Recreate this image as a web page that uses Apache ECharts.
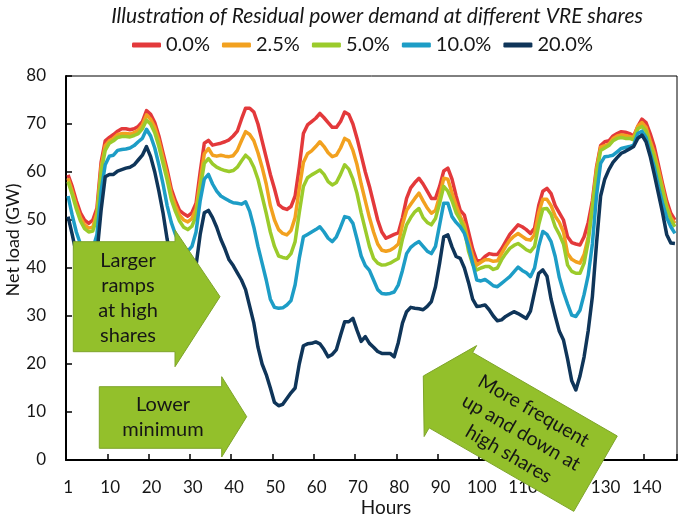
<!DOCTYPE html>
<html>
<head>
<meta charset="utf-8">
<script src="https://cdn.jsdelivr.net/npm/echarts@6/dist/echarts.min.js"></script>
<style>
  html, body { margin: 0; padding: 0; background: #fff; }
  #chart { width: 684px; height: 527px; }
</style>
</head>
<body>
<div id="chart"></div>
<script>
// ---------------- DATA ----------------
const titleText = 'Illustration of Residual power demand at different VRE shares';
const seriesNames = ['0.0%', '2.5%', '5.0%', '10.0%', '20.0%'];
const seriesColors = ['#E3393B', '#F2A11F', '#9BCB2B', '#1D9DC6', '#0F3559'];

// Hours 1..148 (category axis)
const hours = [];
for (let h = 1; h <= 148; h++) hours.push(String(h));

const share0 = [
  59.4, 57, 54, 51.5, 50, 49.3, 50, 52.5, 62, 66.5,
  67.2, 67.8, 68.5, 69, 69, 68.8, 69, 69.5, 70.5, 72.8,
  72, 70.3, 67.5, 64, 60.5, 56.5, 54, 52, 51.3, 50.8,
  51.5, 53.5, 60, 66, 66.6, 65.6, 65.8, 66, 66.3, 66.7,
  67.5, 68.5, 71, 73.3, 73.3, 72.5, 70, 66.5, 63, 59.5,
  56.5, 53.2, 52.5, 52.2, 52.8, 55, 61, 68, 69.8, 70.5,
  71.2, 72.2, 71.3, 70.3, 69.3, 69.3, 70.5, 72.5, 72, 70,
  67, 63.5, 60, 57, 53.5, 50, 47.5, 46.2, 46.6, 47,
  47.3, 50.5, 54.5, 56.7, 57.8, 58.7, 57.5, 56, 54.5, 54.5,
  57, 60.2, 60.8, 58.5, 55, 52, 51, 47.5, 44, 41.5,
  41.5, 42.4, 43, 42.8, 42.8, 44, 45.5, 47, 48, 49,
  48.6, 48, 47.2, 48.3, 53, 56, 56.6, 55.5, 53, 51.5,
  50, 46.5, 45.3, 45, 44.8, 46.5, 49.5, 54, 61, 65.5,
  66.3, 66.5, 67.5, 68, 68.4, 68.3, 68, 67.5, 69.5, 71,
  70.3, 68, 65.3, 61.5, 57.6, 54, 51.4, 50
];
const share25 = [
  58.7, 56, 53, 50.5, 49, 48.3, 48.5, 51.5, 61, 65.5,
  66.5, 67, 67.8, 68, 68, 67.9, 68.2, 68.7, 69.8, 71.9,
  71, 69.3, 66.5, 63, 59.5, 55.5, 53, 51, 50, 49.6,
  50.3, 52.3, 58, 63.8, 64.9, 63.5, 63.3, 63.5, 63.3, 63.2,
  63.4, 64.5, 66.5, 68.4, 67.8, 66.5, 64, 61, 57.5, 53,
  50, 48, 47.2, 46.9, 47.8, 50.5, 56.5, 62, 63.8, 64.4,
  65.3, 66.3, 65.3, 64, 63.2, 63.5, 65, 67, 66.5, 64.5,
  61.5, 57.5, 54, 50.5, 47.5, 45, 43.7, 43.5, 43.7, 44.2,
  45, 49, 52, 53.3, 54.5, 55.6, 54, 52.5, 51.4, 52,
  55, 58.7, 58.5, 55.6, 53, 50.7, 49, 45.5, 42.5, 40.6,
  41.2, 41.7, 41.7, 41.4, 41.5, 43, 44.5, 45.8, 46.6, 47.2,
  46.6, 46, 45.8, 47, 51.5, 54.3, 54.3, 53, 50.8, 49.5,
  47.5, 43, 41.8, 41.3, 41, 42.8, 46.5, 53, 60.5, 65.2,
  65.5, 65.8, 67, 67.5, 67.7, 67.6, 67.4, 67.2, 69.5, 70.3,
  69.3, 66.5, 64, 60.5, 56.8, 53, 50.5, 49.3
];
const share5 = [
  58, 55.3, 52.3, 49.8, 48.2, 47.5, 47.7, 50.5, 60, 64.5,
  66, 66.5, 67.2, 67.4, 67.4, 67.3, 67.6, 68, 69, 70.8,
  70, 68.2, 65.3, 61.8, 58.3, 54.3, 51.8, 49.8, 48.5, 48,
  48.7, 50.8, 56.5, 61.8, 62.8, 61.7, 61, 60.6, 60.3, 60.1,
  60.3, 61, 62.3, 63.5, 62.7, 61, 58.5, 55, 51.4, 47.5,
  44.5, 42.5, 42.2, 42, 43, 45.5, 51.5, 57, 58.8, 59.4,
  59.9, 60.4, 59.5, 58, 57.3, 57.8, 59.5, 61.5, 60.6, 58.5,
  55.5, 51.5, 48, 44.5, 42, 41, 40.6, 40.7, 41, 41.5,
  42, 46, 49, 50.5, 51.7, 52.4, 50.5, 49.5, 49, 50.3,
  53.5, 57, 56, 54, 51.5, 50, 48, 43.5, 40.8, 39.6,
  40, 40.3, 40.3, 39.7, 40, 41.7, 43, 44.1, 44.7, 45.1,
  44.5, 43.8, 43.4, 44.5, 49, 52.3, 52.4, 51.2, 48.6, 47,
  45, 40.6, 39.3, 38.9, 38.9, 41, 45.5, 52.5, 59.5, 64.5,
  65, 65.5, 66.5, 67, 67.2, 67, 67, 66.7, 69, 69.5,
  68.5, 65.5, 63, 59.5, 56, 52.5, 50, 48.6
];
const share10 = [
  55, 51, 47.5, 45, 44, 43.5, 44, 47, 56, 61.5,
  63.3, 63.5, 64.5, 64.7, 64.8, 65, 65.5, 66.3, 67, 68.9,
  67.5, 65, 61.5, 57.5, 53, 49.5, 47, 45, 44, 43.5,
  44.5, 47.5, 54, 58.5, 59.5, 57.5, 56, 55, 54.5, 54,
  53.6, 53.5, 53.3, 53.8, 51.8, 48.5, 44.5, 41, 37.5, 33.5,
  31.8, 31.6, 31.7, 32.3, 33.2, 36.5, 42, 46.5, 47, 47.5,
  48, 48.6, 47.5, 46.2, 45.5, 46.5, 48.5, 50.7, 50.5, 49.3,
  46, 42.5, 40.5, 39.5, 37.5, 35.5, 34.7, 34.6, 34.7, 35,
  36.5, 39.5, 43, 44.3, 45, 45.5, 44.5, 43.5, 43, 44.5,
  49, 53.5, 53.5, 50.7, 49.5, 48.6, 47.2, 44.5, 41, 37.5,
  37.3, 37.6, 37, 36.3, 36.1, 36.8, 37.5, 38.2, 39.2, 40.2,
  39.5, 39, 38.2, 40, 44.5, 47.6, 47, 45.5, 42.4, 38,
  35, 32.5, 30.2, 29.9, 31.2, 34.5, 38.5, 45, 55, 61.8,
  63.2, 63.3, 63.5, 64.2, 64.9, 65.1, 65.3, 65.6, 68, 68.5,
  67.2, 64, 61, 57, 53.5, 50.5, 48.6, 47.2
];
const share20 = [
  50.7, 47, 43, 40.5, 39.5, 39, 39.5, 43, 52, 59,
  59.5, 59.5, 60.2, 60.5, 60.8, 61, 61.5, 62.5, 63.5, 65.3,
  63.2, 60, 56, 51.5, 46, 41.5, 38, 35.5, 34.5, 34.5,
  36, 40.5, 47, 51.5, 52, 50.5, 48.5, 46, 44, 41.7,
  40.5, 39, 37.5, 35.5, 32, 28.5, 23.5, 20, 17.8, 15,
  12, 11.3, 11.6, 12.8, 14, 15, 20, 23.8, 24.2, 24.3,
  24.6, 24.2, 23, 21.5, 22, 23, 26, 28.8, 28.8, 29.5,
  27, 24.7, 25.7, 24.3, 23.5, 22.6, 22.2, 22.2, 22.2, 21.5,
  24.5, 28.5, 30.9, 31.8, 31.6, 31.5, 31.3, 32, 33, 36.1,
  41, 46.5, 46.9, 44.4, 42.4, 42, 40, 37, 33.5, 32,
  32.1, 32.3, 31.3, 30, 29, 29.2, 29.9, 30.4, 30.9, 30.5,
  30, 29.5, 31, 35, 38.9, 39.6, 38.3, 33.5, 30, 26.8,
  25, 21, 16.5, 14.6, 17.5, 21.5, 27, 34, 45, 55,
  58.5, 60.5, 62, 63, 63.9, 64.3, 64.8, 65.3, 67, 67.7,
  66.3, 63.3, 59.5, 55.5, 51.5, 47, 45.2, 45.1
];
const seriesData = [share0, share25, share5, share10, share20];

const yMin = 0, yMax = 80, yStep = 10;
const xAxisTitle = 'Hours';
const yAxisTitle = 'Net load (GW)';
const note1 = 'Larger\nramps\nat high\nshares';
const note2 = 'Lower\nminimum';
const note3Lines = ['More frequent', 'up and down at', 'high shares'];

// ---------------- CHART ----------------
const FONT = 'Lato, "Open Sans", sans-serif';
const TXT = '#161616';
const chart = echarts.init(document.getElementById('chart'), null, { renderer: 'canvas' });

const ARROW_FILL = '#93c02b';
const ARROW_STROKE = '#7ea42a';

function polygon(points) {
  return { type: 'polygon', z: 100, shape: { points: points },
    style: { fill: ARROW_FILL, stroke: ARROW_STROKE, lineWidth: 1 } };
}
function label(x, y, text, size, rotation) {
  return { type: 'text', z: 101, x: x, y: y, rotation: rotation || 0,
    style: { text: text, fill: TXT, font: size + 'px ' + FONT, textAlign: 'center',
      textVerticalAlign: 'middle', verticalAlign: 'middle', lineHeight: 25 } };
}

// rotated arrow (pointing up-left)
const tip = [423.3, 376];
const ang = Math.PI / 6;
const u = [Math.cos(ang), Math.sin(ang)];
const w = [-Math.sin(ang), Math.cos(ang)];
function loc(lx, ly) { return [tip[0] + lx * u[0] + ly * w[0], tip[1] + lx * u[1] + ly * w[1]]; }
const arrow3 = [loc(0, 0), loc(31, -53), loc(31, -45), loc(198, -45), loc(198, 42), loc(31, 42), loc(31, 52)];

const graphics = [
  polygon([[73.3, 241.7], [175, 241.7], [175, 230], [220, 296.7], [175, 366.7], [175, 351.7], [73.3, 351.7]]),
  label(128, 298, note1, 20),
  polygon([[99.3, 386.7], [221.7, 386.7], [221.7, 376.7], [246.7, 416.7], [221.7, 457], [221.7, 448.3], [99.3, 448.3]]),
  label(163, 417.5, note2, 20),
  polygon(arrow3),
  { type: 'text', z: 0, x: 386, y: 508, style: { text: xAxisTitle, fill: TXT, font: '19px ' + FONT,
      textAlign: 'center', textVerticalAlign: 'middle', verticalAlign: 'middle' } },
  { type: 'text', z: 0, x: 13, y: 240, rotation: Math.PI / 2, style: { text: yAxisTitle, fill: TXT, font: '18px ' + FONT,
      textAlign: 'center', textVerticalAlign: 'middle', verticalAlign: 'middle' } }
];
note3Lines.forEach(function (t, k) {
  const p = loc(113, (k - 1) * 25);
  graphics.push(label(p[0], p[1], t, 19.5, -ang));
});

const option = {
  animation: false,
  backgroundColor: '#fff',
  title: {
    text: titleText, left: 372, top: 1, textAlign: 'center',
    textStyle: { fontFamily: FONT, fontStyle: 'italic', fontWeight: 'normal', fontSize: 21, color: TXT }
  },
  legend: {
    data: seriesNames, left: 127, top: 30, icon: 'roundRect', itemWidth: 29, itemHeight: 5, itemGap: 12,
    textStyle: { fontFamily: FONT, fontSize: 20, color: TXT }
  },
  grid: { left: 66, right: 7, top: 76, bottom: 67, show: true, borderColor: '#000', borderWidth: 1, backgroundColor: 'transparent' },
  xAxis: {
    type: 'category', data: hours, boundaryGap: true,
    axisLine: { show: true, lineStyle: { color: '#000', width: 2 } },
    axisTick: { show: true, inside: true, length: 6, alignWithLabel: false,
      interval: function (i) { return i > 0 && i % 10 === 0; },
      lineStyle: { color: '#000', width: 1.5 } },
    axisLabel: {
      interval: function (i) { return i === 0 || (i + 1) % 10 === 0; },
      formatter: function (v, i) { return i === 0 ? v : '{s|' + v + '}'; },
      margin: 19, fontFamily: FONT, fontSize: 17, color: TXT,
      rich: { s: { padding: [0, 0, 0, 10], fontFamily: FONT, fontSize: 17, color: TXT } }
    },
    splitLine: { show: false }
  },
  yAxis: {
    type: 'value', min: yMin, max: yMax, interval: yStep,
    axisLine: { show: true, lineStyle: { color: '#000', width: 2 } },
    axisTick: { show: true, inside: true, length: 6, lineStyle: { color: '#000', width: 1.5 } },
    axisLabel: { margin: 20, fontFamily: FONT, fontSize: 17, color: TXT },
    splitLine: { show: false }
  },
  series: seriesNames.map(function (n, k) {
    return { name: n, type: 'line', data: seriesData[k], symbol: 'none', showSymbol: false,
      color: seriesColors[k], lineStyle: { width: 3.5, color: seriesColors[k], join: 'round' },
      itemStyle: { color: seriesColors[k] }, z: 2 + k };
  }),
  graphic: graphics
};
chart.setOption(option);
</script>
</body>
</html>
